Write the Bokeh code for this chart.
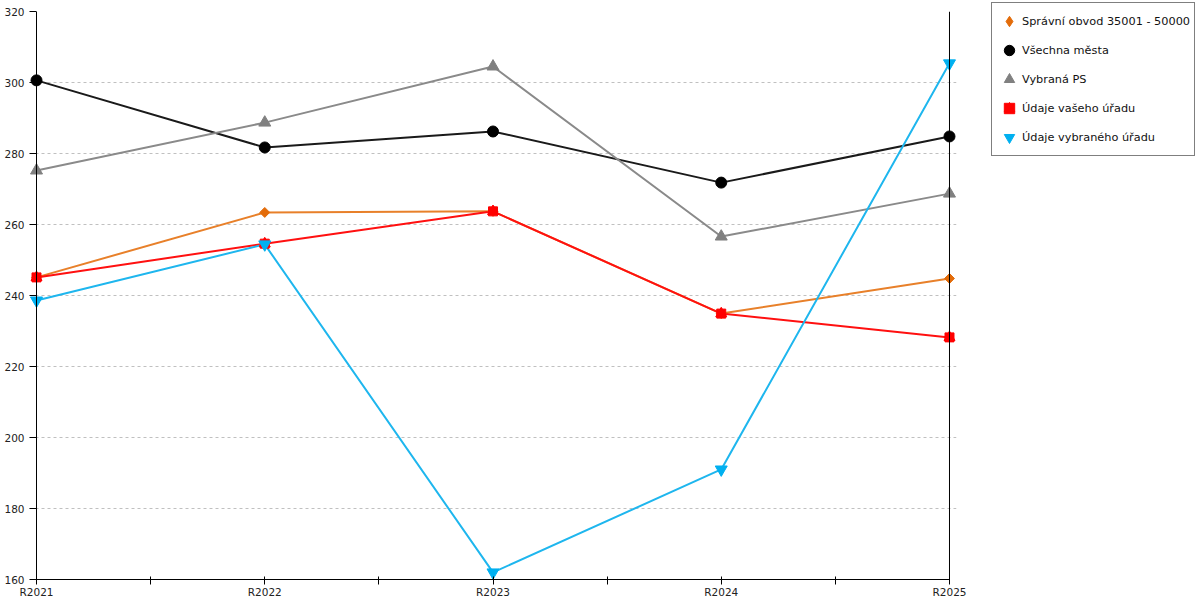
from bokeh.plotting import figure
from bokeh.models import Range1d, FixedTicker, Legend, LegendItem, Span
from bokeh.embed import file_html
from bokeh.resources import INLINE
import math

categories = ["R2021", "R2022", "R2023", "R2024", "R2025"]
spravni_obvod = [245.1, 263.4, 263.7, 234.9, 244.8]
vsechna_mesta = [300.6, 281.7, 286.2, 271.8, 284.8]
vybrana_ps = [275.2, 288.7, 304.5, 256.6, 268.7]
udaje_vaseho = [245.1, 254.6, 263.7, 234.9, 228.2]
udaje_vybraneho = [238.6, 254.4, 162.0, 191.0, 305.4]
series_names = ["Správní obvod 35001 - 50000", "Všechna města", "Vybraná PS",
                "Údaje vašeho úřadu", "Údaje vybraného úřadu"]
y_ticks = [160, 180, 200, 220, 240, 260, 280, 300, 320]

FONT = "DejaVu Sans"
x = list(range(len(categories)))
x_first, x_last = x[0], x[-1]
pad = 0.0307  # small range padding so edge markers are not clipped

p = figure(frame_width=927, frame_height=568, output_backend="svg", toolbar_location=None,
           x_range=Range1d(x_first - pad, x_last + pad),
           y_range=Range1d(y_ticks[0], y_ticks[-1]),
           min_border_left=29, min_border_top=11, min_border_right=244, min_border_bottom=0)
p.outline_line_color = None
p.background_fill_color = "white"

# x axis
p.xaxis.ticker = FixedTicker(ticks=x, minor_ticks=[i + 0.5 for i in x[:-1]])
p.xaxis.major_label_overrides = {i: c for i, c in zip(x, categories)}
p.xaxis.bounds = (x_first, x_last)
p.xaxis.axis_line_color = "black"
p.xaxis.major_tick_line_color = "black"
p.xaxis.minor_tick_line_color = "black"
p.xaxis.major_tick_in = 3
p.xaxis.major_tick_out = 5
p.xaxis.minor_tick_in = 3
p.xaxis.minor_tick_out = 5
p.xaxis.major_label_standoff = 1
p.xaxis.major_label_text_font = FONT
p.xaxis.major_label_text_font_size = "10.5px"
p.xaxis.major_label_text_color = "#222222"

# y axis: labels at the frame edge, ticks reaching in to the axis line at the first category
p.yaxis.ticker = FixedTicker(ticks=y_ticks, minor_ticks=[])
p.yaxis.axis_line_color = None
p.yaxis.major_tick_line_color = "black"
p.yaxis.major_tick_in = 7
p.yaxis.major_tick_out = 0
p.yaxis.major_label_standoff = 5
p.yaxis.major_label_text_font = FONT
p.yaxis.major_label_text_font_size = "10.5px"
p.yaxis.major_label_text_color = "#222222"
p.add_layout(Span(location=x_first, dimension="height",
                  line_color="black", line_width=1))

p.xgrid.visible = False
p.ygrid.ticker = FixedTicker(ticks=y_ticks)
p.ygrid.grid_line_color = "#c0c0c0"
p.ygrid.grid_line_dash = "3 3"
p.ygrid.grid_line_width = 1

p.add_layout(Span(location=x_last, dimension="height",
                  line_color="black", line_width=1))

# series
p.line(x, spravni_obvod, line_color="#E8802A", line_width=2)
p.line(x, vsechna_mesta, line_color="#1a1a1a", line_width=2)
p.line(x, vybrana_ps, line_color="#8a8a8a", line_width=2)
p.line(x, udaje_vaseho, line_color="#FF1010", line_width=2)
p.line(x, udaje_vybraneho, line_color="#1EB6EE", line_width=2)

r1 = p.scatter(x, spravni_obvod, marker="square", angle=math.pi / 4, size=7,
               fill_color="#E36C0A", line_color="#E36C0A")
# diamond glyph used for the legend entry (the legend sizes markers itself)
r1_leg = p.scatter(x, spravni_obvod, marker="diamond", size=0,
                   fill_color="#E36C0A", line_color="#E36C0A")
r2 = p.scatter(x, vsechna_mesta, marker="circle", size=11,
               fill_color="black", line_color="black")
r3 = p.scatter(x, vybrana_ps, marker="triangle", size=12,
               fill_color="#808080", line_color="#808080")
r4a = p.scatter(x, udaje_vaseho, marker="square", size=9,
                fill_color="#FF0000", line_color="#FF0000")
r4b = p.scatter(x, udaje_vaseho, marker="triangle", size=11,
                fill_color="#FF0000", line_color="#FF0000")
r5 = p.scatter(x, udaje_vybraneho, marker="inverted_triangle", size=12,
               fill_color="#00B0F0", line_color="#00B0F0")

items = [
    LegendItem(label=series_names[0], renderers=[r1_leg]),
    LegendItem(label=series_names[1], renderers=[r2]),
    LegendItem(label=series_names[2], renderers=[r3]),
    LegendItem(label=series_names[3], renderers=[r4a, r4b]),
    LegendItem(label=series_names[4], renderers=[r5]),
]
legend = Legend(items=items, location=(35, 423),
                border_line_color="black", border_line_width=1,
                background_fill_color="white", background_fill_alpha=1,
                padding=4, spacing=1, glyph_height=28, glyph_width=26,
                label_standoff=0, margin=0,
                label_text_font=FONT, label_text_font_size="11.3px",
                label_text_color="#111111")
p.add_layout(legend, "right")

open("out.html", "w").write(file_html(p, INLINE))
